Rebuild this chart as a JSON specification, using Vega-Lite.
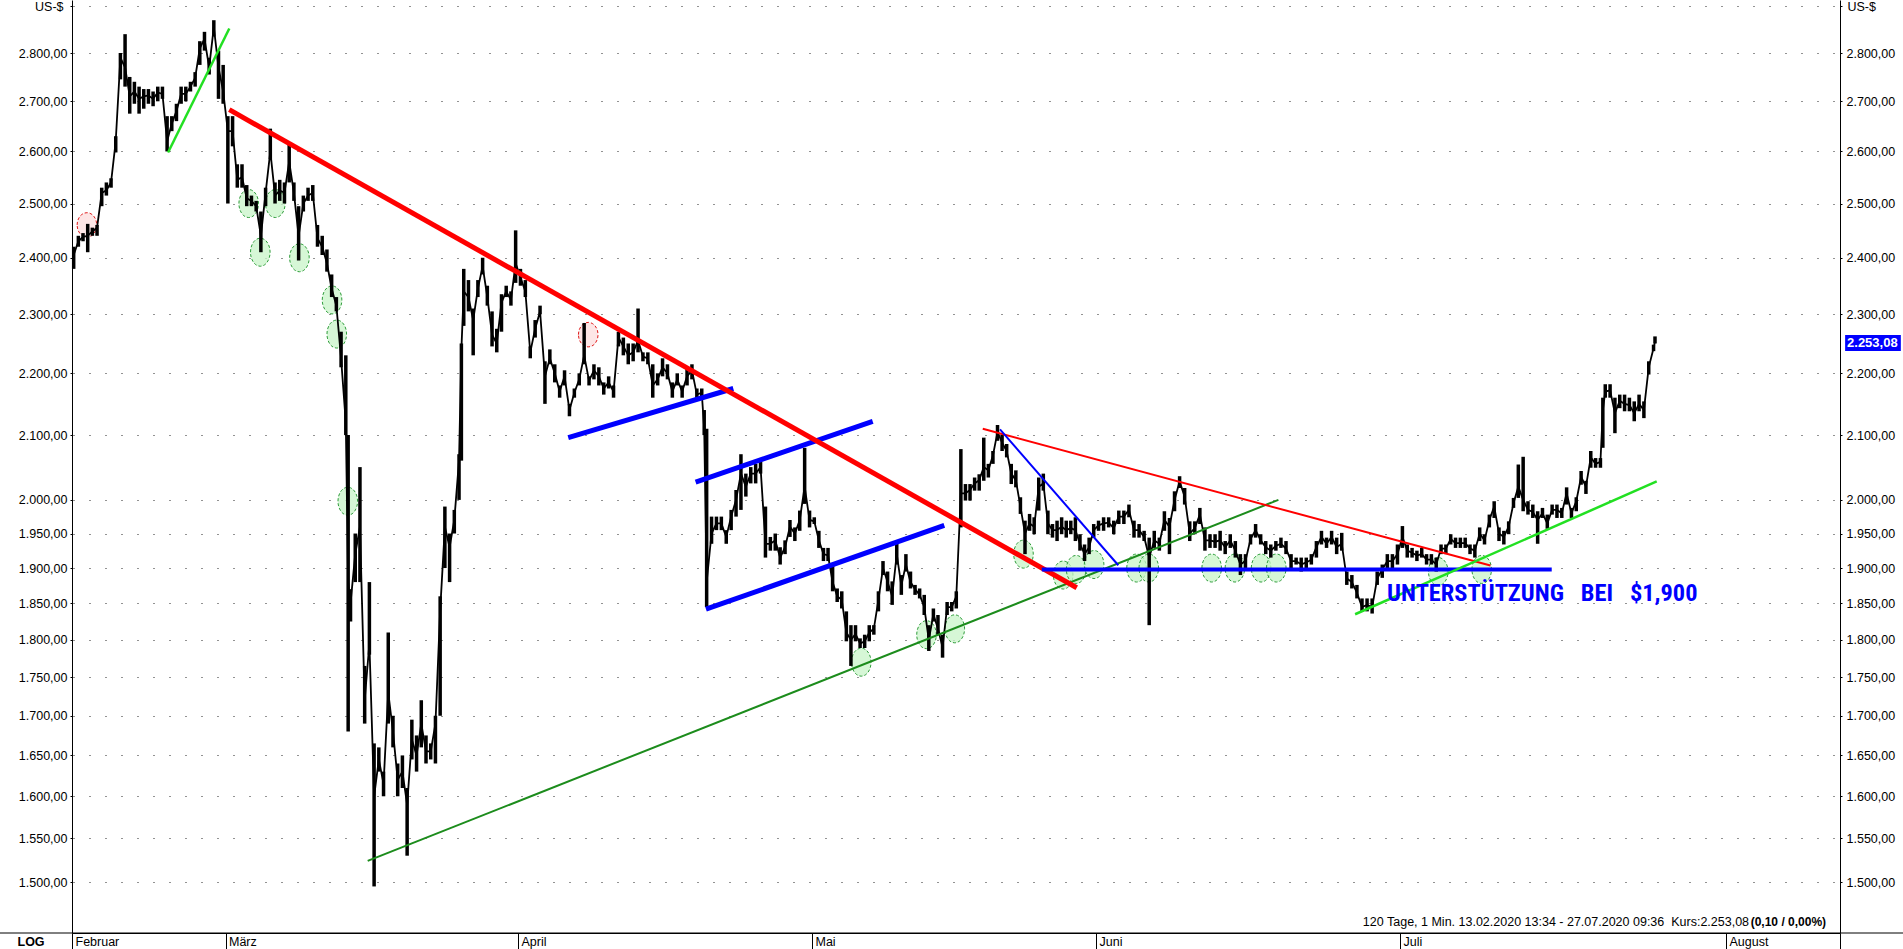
{
  "$schema": "https://vega.github.io/schema/vega-lite/v6.json",
  "width": 1768,
  "height": 933,
  "autosize": {"type": "none"},
  "padding": {"left": 72, "top": 0, "right": 63, "bottom": 16},
  "background": "#ffffff",
  "config": {"view": {"stroke": null}, "font": "Liberation Sans"},
  "datasets": {
    "prices": [
      {"t":"2020-02-13T18:00","l":2380,"h":2420,"c":2405},
      {"t":"2020-02-14T06:00","l":2420,"h":2440,"c":2430},
      {"t":"2020-02-14T18:00","l":2430,"h":2445,"c":2438},
      {"t":"2020-02-15T06:00","l":2410,"h":2462,"c":2440},
      {"t":"2020-02-15T18:00","l":2440,"h":2455,"c":2448},
      {"t":"2020-02-16T06:00","l":2440,"h":2460,"c":2455},
      {"t":"2020-02-16T18:00","l":2495,"h":2530,"c":2520},
      {"t":"2020-02-17T06:00","l":2515,"h":2540,"c":2525},
      {"t":"2020-02-17T18:00","l":2530,"h":2548,"c":2540},
      {"t":"2020-02-18T06:00","l":2598,"h":2630,"c":2620},
      {"t":"2020-02-18T18:00","l":2745,"h":2800,"c":2790},
      {"t":"2020-02-19T06:00","l":2730,"h":2840,"c":2770},
      {"t":"2020-02-19T18:00","l":2675,"h":2750,"c":2710},
      {"t":"2020-02-20T06:00","l":2695,"h":2740,"c":2720},
      {"t":"2020-02-20T18:00","l":2675,"h":2730,"c":2705},
      {"t":"2020-02-21T06:00","l":2685,"h":2725,"c":2710},
      {"t":"2020-02-21T18:00","l":2695,"h":2725,"c":2712},
      {"t":"2020-02-22T06:00","l":2690,"h":2720,"c":2705},
      {"t":"2020-02-22T18:00","l":2700,"h":2730,"c":2718},
      {"t":"2020-02-23T06:00","l":2705,"h":2730,"c":2715},
      {"t":"2020-02-23T18:00","l":2600,"h":2670,"c":2620},
      {"t":"2020-02-24T06:00","l":2640,"h":2670,"c":2655},
      {"t":"2020-02-24T18:00","l":2660,"h":2695,"c":2680},
      {"t":"2020-02-25T06:00","l":2695,"h":2730,"c":2715},
      {"t":"2020-02-25T18:00","l":2700,"h":2730,"c":2715},
      {"t":"2020-02-26T06:00","l":2720,"h":2740,"c":2730},
      {"t":"2020-02-26T18:00","l":2730,"h":2760,"c":2748},
      {"t":"2020-02-27T06:00","l":2775,"h":2825,"c":2810},
      {"t":"2020-02-27T18:00","l":2805,"h":2845,"c":2830},
      {"t":"2020-02-28T06:00","l":2755,"h":2790,"c":2770},
      {"t":"2020-02-28T18:00","l":2835,"h":2870,"c":2855},
      {"t":"2020-02-29T06:00","l":2705,"h":2805,"c":2770},
      {"t":"2020-02-29T18:00","l":2695,"h":2775,"c":2720},
      {"t":"2020-03-01T06:00","l":2500,"h":2670,"c":2640},
      {"t":"2020-03-01T18:00","l":2610,"h":2670,"c":2640},
      {"t":"2020-03-02T06:00","l":2530,"h":2575,"c":2545},
      {"t":"2020-03-02T18:00","l":2530,"h":2575,"c":2550},
      {"t":"2020-03-03T06:00","l":2495,"h":2535,"c":2510},
      {"t":"2020-03-03T18:00","l":2495,"h":2515,"c":2505},
      {"t":"2020-03-04T06:00","l":2485,"h":2505,"c":2495},
      {"t":"2020-03-04T18:00","l":2410,"h":2485,"c":2440},
      {"t":"2020-03-05T06:00","l":2495,"h":2530,"c":2520},
      {"t":"2020-03-05T18:00","l":2585,"h":2645,"c":2600},
      {"t":"2020-03-06T06:00","l":2500,"h":2540,"c":2515},
      {"t":"2020-03-06T18:00","l":2505,"h":2545,"c":2525},
      {"t":"2020-03-07T06:00","l":2500,"h":2540,"c":2520},
      {"t":"2020-03-07T18:00","l":2540,"h":2615,"c":2580},
      {"t":"2020-03-08T06:00","l":2505,"h":2540,"c":2520},
      {"t":"2020-03-08T18:00","l":2395,"h":2495,"c":2440},
      {"t":"2020-03-09T06:00","l":2485,"h":2515,"c":2500},
      {"t":"2020-03-09T18:00","l":2505,"h":2530,"c":2515},
      {"t":"2020-03-10T06:00","l":2505,"h":2535,"c":2520},
      {"t":"2020-03-10T18:00","l":2420,"h":2460,"c":2435},
      {"t":"2020-03-11T06:00","l":2405,"h":2440,"c":2420},
      {"t":"2020-03-11T18:00","l":2375,"h":2415,"c":2390},
      {"t":"2020-03-12T06:00","l":2330,"h":2370,"c":2345},
      {"t":"2020-03-12T18:00","l":2305,"h":2330,"c":2315},
      {"t":"2020-03-13T06:00","l":2210,"h":2270,"c":2225},
      {"t":"2020-03-13T18:00","l":2100,"h":2230,"c":2120},
      {"t":"2020-03-14T00:00","l":1680,"h":2100,"c":1880},
      {"t":"2020-03-14T06:00","l":1825,"h":1870,"c":1850},
      {"t":"2020-03-14T18:00","l":1880,"h":1950,"c":1920},
      {"t":"2020-03-15T06:00","l":1880,"h":2050,"c":1960},
      {"t":"2020-03-15T18:00","l":1690,"h":1765,"c":1720},
      {"t":"2020-03-16T06:00","l":1780,"h":1880,"c":1795},
      {"t":"2020-03-16T18:00","l":1495,"h":1665,"c":1600},
      {"t":"2020-03-17T06:00","l":1630,"h":1660,"c":1645},
      {"t":"2020-03-17T18:00","l":1600,"h":1630,"c":1615},
      {"t":"2020-03-18T06:00","l":1690,"h":1810,"c":1730},
      {"t":"2020-03-18T18:00","l":1660,"h":1700,"c":1680},
      {"t":"2020-03-19T06:00","l":1600,"h":1640,"c":1620},
      {"t":"2020-03-19T18:00","l":1610,"h":1650,"c":1630},
      {"t":"2020-03-20T06:00","l":1530,"h":1610,"c":1590},
      {"t":"2020-03-20T18:00","l":1645,"h":1695,"c":1670},
      {"t":"2020-03-21T06:00","l":1630,"h":1675,"c":1650},
      {"t":"2020-03-21T18:00","l":1660,"h":1720,"c":1690},
      {"t":"2020-03-22T06:00","l":1640,"h":1675,"c":1655},
      {"t":"2020-03-22T18:00","l":1645,"h":1665,"c":1655},
      {"t":"2020-03-23T06:00","l":1640,"h":1700,"c":1690},
      {"t":"2020-03-23T18:00","l":1700,"h":1860,"c":1840},
      {"t":"2020-03-24T06:00","l":1900,"h":1990,"c":1960},
      {"t":"2020-03-24T18:00","l":1880,"h":1950,"c":1930},
      {"t":"2020-03-25T06:00","l":1950,"h":1985,"c":1970},
      {"t":"2020-03-25T18:00","l":2000,"h":2070,"c":2060},
      {"t":"2020-03-26T00:00","l":2060,"h":2250,"c":2240},
      {"t":"2020-03-26T06:00","l":2280,"h":2380,"c":2340},
      {"t":"2020-03-26T18:00","l":2305,"h":2360,"c":2330},
      {"t":"2020-03-27T06:00","l":2230,"h":2310,"c":2290},
      {"t":"2020-03-27T18:00","l":2330,"h":2360,"c":2345},
      {"t":"2020-03-28T06:00","l":2370,"h":2400,"c":2385},
      {"t":"2020-03-28T18:00","l":2315,"h":2350,"c":2330},
      {"t":"2020-03-29T06:00","l":2245,"h":2305,"c":2265},
      {"t":"2020-03-29T18:00","l":2235,"h":2275,"c":2250},
      {"t":"2020-03-30T06:00","l":2270,"h":2335,"c":2320},
      {"t":"2020-03-30T18:00","l":2330,"h":2350,"c":2340},
      {"t":"2020-03-31T06:00","l":2315,"h":2340,"c":2325},
      {"t":"2020-03-31T18:00","l":2355,"h":2450,"c":2390},
      {"t":"2020-04-01T06:00","l":2350,"h":2380,"c":2365},
      {"t":"2020-04-01T18:00","l":2330,"h":2360,"c":2340},
      {"t":"2020-04-02T06:00","l":2225,"h":2245,"c":2235},
      {"t":"2020-04-02T18:00","l":2260,"h":2290,"c":2275},
      {"t":"2020-04-03T06:00","l":2300,"h":2315,"c":2305},
      {"t":"2020-04-03T18:00","l":2150,"h":2220,"c":2195},
      {"t":"2020-04-04T06:00","l":2215,"h":2240,"c":2225},
      {"t":"2020-04-04T18:00","l":2185,"h":2215,"c":2200},
      {"t":"2020-04-05T06:00","l":2160,"h":2180,"c":2170},
      {"t":"2020-04-05T18:00","l":2180,"h":2205,"c":2195},
      {"t":"2020-04-06T06:00","l":2130,"h":2150,"c":2140},
      {"t":"2020-04-06T18:00","l":2160,"h":2175,"c":2168},
      {"t":"2020-04-07T06:00","l":2180,"h":2200,"c":2190},
      {"t":"2020-04-07T18:00","l":2215,"h":2285,"c":2230},
      {"t":"2020-04-08T06:00","l":2180,"h":2195,"c":2188},
      {"t":"2020-04-08T18:00","l":2190,"h":2215,"c":2205},
      {"t":"2020-04-09T06:00","l":2180,"h":2210,"c":2195},
      {"t":"2020-04-09T18:00","l":2165,"h":2185,"c":2175},
      {"t":"2020-04-10T06:00","l":2175,"h":2195,"c":2185},
      {"t":"2020-04-10T18:00","l":2160,"h":2180,"c":2170},
      {"t":"2020-04-11T06:00","l":2245,"h":2270,"c":2260},
      {"t":"2020-04-11T18:00","l":2230,"h":2260,"c":2245},
      {"t":"2020-04-12T06:00","l":2215,"h":2250,"c":2230},
      {"t":"2020-04-12T18:00","l":2220,"h":2250,"c":2235},
      {"t":"2020-04-13T06:00","l":2235,"h":2310,"c":2255},
      {"t":"2020-04-13T18:00","l":2220,"h":2235,"c":2228},
      {"t":"2020-04-14T06:00","l":2215,"h":2235,"c":2225},
      {"t":"2020-04-14T18:00","l":2160,"h":2215,"c":2180},
      {"t":"2020-04-15T06:00","l":2180,"h":2200,"c":2190},
      {"t":"2020-04-15T18:00","l":2195,"h":2225,"c":2210},
      {"t":"2020-04-16T06:00","l":2190,"h":2215,"c":2200},
      {"t":"2020-04-16T18:00","l":2160,"h":2185,"c":2170},
      {"t":"2020-04-17T06:00","l":2180,"h":2200,"c":2190},
      {"t":"2020-04-17T18:00","l":2160,"h":2180,"c":2170},
      {"t":"2020-04-18T06:00","l":2180,"h":2210,"c":2195},
      {"t":"2020-04-18T18:00","l":2190,"h":2215,"c":2205},
      {"t":"2020-04-19T06:00","l":2155,"h":2175,"c":2165},
      {"t":"2020-04-19T18:00","l":2160,"h":2175,"c":2168},
      {"t":"2020-04-20T00:00","l":2100,"h":2140,"c":2110},
      {"t":"2020-04-20T06:00","l":1845,"h":2110,"c":1880},
      {"t":"2020-04-20T18:00","l":1935,"h":1975,"c":1950},
      {"t":"2020-04-21T06:00","l":1955,"h":1975,"c":1965},
      {"t":"2020-04-21T18:00","l":1955,"h":1975,"c":1965},
      {"t":"2020-04-22T06:00","l":1935,"h":1955,"c":1945},
      {"t":"2020-04-22T18:00","l":1955,"h":1985,"c":1975},
      {"t":"2020-04-23T06:00","l":1975,"h":2015,"c":2000},
      {"t":"2020-04-23T18:00","l":1985,"h":2070,"c":2040},
      {"t":"2020-04-24T06:00","l":2005,"h":2040,"c":2020},
      {"t":"2020-04-24T18:00","l":2025,"h":2050,"c":2040},
      {"t":"2020-04-25T06:00","l":2025,"h":2055,"c":2040},
      {"t":"2020-04-25T18:00","l":2040,"h":2060,"c":2050},
      {"t":"2020-04-26T06:00","l":1915,"h":1990,"c":1935},
      {"t":"2020-04-26T18:00","l":1925,"h":1945,"c":1935},
      {"t":"2020-04-27T06:00","l":1925,"h":1950,"c":1940},
      {"t":"2020-04-27T18:00","l":1905,"h":1930,"c":1915},
      {"t":"2020-04-28T06:00","l":1920,"h":1940,"c":1930},
      {"t":"2020-04-28T18:00","l":1945,"h":1970,"c":1960},
      {"t":"2020-04-29T06:00","l":1939,"h":1959,"c":1950},
      {"t":"2020-04-29T18:00","l":1954,"h":1984,"c":1970},
      {"t":"2020-04-30T06:00","l":1994,"h":2080,"c":2020},
      {"t":"2020-04-30T18:00","l":1959,"h":1984,"c":1970},
      {"t":"2020-05-01T06:00","l":1964,"h":1974,"c":1968},
      {"t":"2020-05-01T18:00","l":1929,"h":1954,"c":1940},
      {"t":"2020-05-02T06:00","l":1910,"h":1929,"c":1920},
      {"t":"2020-05-02T18:00","l":1910,"h":1929,"c":1918},
      {"t":"2020-05-03T06:00","l":1867,"h":1905,"c":1880},
      {"t":"2020-05-03T18:00","l":1852,"h":1871,"c":1860},
      {"t":"2020-05-04T06:00","l":1843,"h":1867,"c":1855},
      {"t":"2020-05-04T18:00","l":1798,"h":1839,"c":1810},
      {"t":"2020-05-05T06:00","l":1765,"h":1820,"c":1800},
      {"t":"2020-05-05T18:00","l":1798,"h":1820,"c":1808},
      {"t":"2020-05-06T06:00","l":1789,"h":1802,"c":1795},
      {"t":"2020-05-06T18:00","l":1789,"h":1807,"c":1798},
      {"t":"2020-05-07T06:00","l":1798,"h":1820,"c":1810},
      {"t":"2020-05-07T18:00","l":1807,"h":1820,"c":1815},
      {"t":"2020-05-08T06:00","l":1839,"h":1867,"c":1855},
      {"t":"2020-05-08T18:00","l":1890,"h":1910,"c":1900},
      {"t":"2020-05-09T06:00","l":1867,"h":1895,"c":1880},
      {"t":"2020-05-09T18:00","l":1848,"h":1881,"c":1860},
      {"t":"2020-05-10T06:00","l":1905,"h":1939,"c":1920},
      {"t":"2020-05-10T18:00","l":1862,"h":1890,"c":1875},
      {"t":"2020-05-11T06:00","l":1895,"h":1920,"c":1905},
      {"t":"2020-05-11T18:00","l":1871,"h":1895,"c":1880},
      {"t":"2020-05-12T06:00","l":1862,"h":1876,"c":1870},
      {"t":"2020-05-12T18:00","l":1857,"h":1871,"c":1862},
      {"t":"2020-05-13T06:00","l":1834,"h":1862,"c":1845},
      {"t":"2020-05-13T18:00","l":1785,"h":1820,"c":1800},
      {"t":"2020-05-14T06:00","l":1825,"h":1843,"c":1835},
      {"t":"2020-05-14T18:00","l":1807,"h":1834,"c":1815},
      {"t":"2020-05-15T06:00","l":1776,"h":1807,"c":1790},
      {"t":"2020-05-15T18:00","l":1834,"h":1852,"c":1845},
      {"t":"2020-05-16T06:00","l":1839,"h":1852,"c":1845},
      {"t":"2020-05-16T18:00","l":1843,"h":1867,"c":1860},
      {"t":"2020-05-17T06:00","l":1959,"h":2078,"c":2010},
      {"t":"2020-05-17T18:00","l":1999,"h":2024,"c":2010},
      {"t":"2020-05-18T06:00","l":1999,"h":2024,"c":2015},
      {"t":"2020-05-18T18:00","l":2014,"h":2034,"c":2025},
      {"t":"2020-05-19T06:00","l":2014,"h":2039,"c":2030},
      {"t":"2020-05-19T18:00","l":2029,"h":2096,"c":2050},
      {"t":"2020-05-20T06:00","l":2034,"h":2055,"c":2045},
      {"t":"2020-05-20T18:00","l":2055,"h":2075,"c":2068},
      {"t":"2020-05-21T06:00","l":2091,"h":2116,"c":2105},
      {"t":"2020-05-21T18:00","l":2075,"h":2101,"c":2088},
      {"t":"2020-05-22T06:00","l":2065,"h":2086,"c":2075},
      {"t":"2020-05-22T18:00","l":2024,"h":2055,"c":2040},
      {"t":"2020-05-23T06:00","l":2019,"h":2045,"c":2030},
      {"t":"2020-05-23T18:00","l":1979,"h":2004,"c":1990},
      {"t":"2020-05-24T06:00","l":1920,"h":1969,"c":1950},
      {"t":"2020-05-24T18:00","l":1954,"h":1979,"c":1965},
      {"t":"2020-05-25T06:00","l":1949,"h":1974,"c":1960},
      {"t":"2020-05-25T18:00","l":1984,"h":2034,"c":2020},
      {"t":"2020-05-26T06:00","l":2014,"h":2040,"c":2025},
      {"t":"2020-05-26T18:00","l":1949,"h":1984,"c":1965},
      {"t":"2020-05-27T06:00","l":1944,"h":1964,"c":1955},
      {"t":"2020-05-27T18:00","l":1939,"h":1969,"c":1955},
      {"t":"2020-05-28T06:00","l":1949,"h":1974,"c":1960},
      {"t":"2020-05-28T18:00","l":1944,"h":1969,"c":1955},
      {"t":"2020-05-29T06:00","l":1949,"h":1969,"c":1958},
      {"t":"2020-05-29T18:00","l":1939,"h":1974,"c":1955},
      {"t":"2020-05-30T06:00","l":1925,"h":1949,"c":1935},
      {"t":"2020-05-30T18:00","l":1910,"h":1934,"c":1920},
      {"t":"2020-05-31T06:00","l":1920,"h":1944,"c":1930},
      {"t":"2020-05-31T18:00","l":1944,"h":1964,"c":1955},
      {"t":"2020-06-01T06:00","l":1954,"h":1969,"c":1962},
      {"t":"2020-06-01T18:00","l":1954,"h":1974,"c":1965},
      {"t":"2020-06-02T06:00","l":1959,"h":1974,"c":1966},
      {"t":"2020-06-02T18:00","l":1949,"h":1969,"c":1958},
      {"t":"2020-06-03T06:00","l":1964,"h":1984,"c":1975},
      {"t":"2020-06-03T18:00","l":1964,"h":1984,"c":1975},
      {"t":"2020-06-04T06:00","l":1974,"h":1993,"c":1985},
      {"t":"2020-06-04T18:00","l":1944,"h":1969,"c":1955},
      {"t":"2020-06-05T06:00","l":1944,"h":1964,"c":1955},
      {"t":"2020-06-05T18:00","l":1939,"h":1954,"c":1945},
      {"t":"2020-06-06T06:00","l":1820,"h":1944,"c":1915},
      {"t":"2020-06-06T18:00","l":1929,"h":1954,"c":1940},
      {"t":"2020-06-07T06:00","l":1925,"h":1944,"c":1935},
      {"t":"2020-06-07T18:00","l":1954,"h":1983,"c":1970},
      {"t":"2020-06-08T06:00","l":1920,"h":1973,"c":1960},
      {"t":"2020-06-08T18:00","l":1983,"h":2013,"c":2000},
      {"t":"2020-06-09T06:00","l":2018,"h":2036,"c":2028},
      {"t":"2020-06-09T18:00","l":1993,"h":2018,"c":2005},
      {"t":"2020-06-10T06:00","l":1939,"h":1968,"c":1950},
      {"t":"2020-06-10T18:00","l":1949,"h":1968,"c":1958},
      {"t":"2020-06-11T06:00","l":1964,"h":1988,"c":1978},
      {"t":"2020-06-11T18:00","l":1925,"h":1959,"c":1940},
      {"t":"2020-06-12T06:00","l":1929,"h":1949,"c":1940},
      {"t":"2020-06-12T18:00","l":1929,"h":1949,"c":1938},
      {"t":"2020-06-13T06:00","l":1925,"h":1954,"c":1940},
      {"t":"2020-06-13T18:00","l":1920,"h":1939,"c":1930},
      {"t":"2020-06-14T06:00","l":1929,"h":1949,"c":1940},
      {"t":"2020-06-14T18:00","l":1915,"h":1939,"c":1925},
      {"t":"2020-06-15T06:00","l":1890,"h":1920,"c":1905},
      {"t":"2020-06-15T18:00","l":1900,"h":1920,"c":1910},
      {"t":"2020-06-16T06:00","l":1934,"h":1949,"c":1942},
      {"t":"2020-06-16T18:00","l":1944,"h":1964,"c":1955},
      {"t":"2020-06-17T06:00","l":1934,"h":1949,"c":1940},
      {"t":"2020-06-17T18:00","l":1920,"h":1939,"c":1930},
      {"t":"2020-06-18T06:00","l":1915,"h":1934,"c":1925},
      {"t":"2020-06-18T18:00","l":1925,"h":1939,"c":1932},
      {"t":"2020-06-19T06:00","l":1929,"h":1944,"c":1935},
      {"t":"2020-06-19T18:00","l":1920,"h":1939,"c":1928},
      {"t":"2020-06-20T06:00","l":1900,"h":1920,"c":1910},
      {"t":"2020-06-20T18:00","l":1905,"h":1915,"c":1910},
      {"t":"2020-06-21T06:00","l":1895,"h":1915,"c":1905},
      {"t":"2020-06-21T18:00","l":1900,"h":1915,"c":1908},
      {"t":"2020-06-22T06:00","l":1905,"h":1920,"c":1912},
      {"t":"2020-06-22T18:00","l":1915,"h":1939,"c":1930},
      {"t":"2020-06-23T06:00","l":1934,"h":1954,"c":1945},
      {"t":"2020-06-23T18:00","l":1929,"h":1944,"c":1935},
      {"t":"2020-06-24T06:00","l":1934,"h":1954,"c":1945},
      {"t":"2020-06-24T18:00","l":1920,"h":1944,"c":1930},
      {"t":"2020-06-25T06:00","l":1925,"h":1951,"c":1935},
      {"t":"2020-06-25T18:00","l":1876,"h":1895,"c":1885},
      {"t":"2020-06-26T06:00","l":1871,"h":1890,"c":1880},
      {"t":"2020-06-26T18:00","l":1857,"h":1876,"c":1865},
      {"t":"2020-06-27T06:00","l":1839,"h":1857,"c":1845},
      {"t":"2020-06-27T18:00","l":1839,"h":1857,"c":1848},
      {"t":"2020-06-28T06:00","l":1836,"h":1857,"c":1845},
      {"t":"2020-06-28T18:00","l":1876,"h":1895,"c":1885},
      {"t":"2020-06-29T06:00","l":1886,"h":1905,"c":1898},
      {"t":"2020-06-29T18:00","l":1900,"h":1920,"c":1910},
      {"t":"2020-06-30T06:00","l":1900,"h":1920,"c":1910},
      {"t":"2020-06-30T18:00","l":1905,"h":1934,"c":1920},
      {"t":"2020-07-01T06:00","l":1929,"h":1961,"c":1945},
      {"t":"2020-07-01T18:00","l":1915,"h":1934,"c":1925},
      {"t":"2020-07-02T06:00","l":1915,"h":1929,"c":1922},
      {"t":"2020-07-02T18:00","l":1910,"h":1925,"c":1918},
      {"t":"2020-07-03T06:00","l":1915,"h":1929,"c":1920},
      {"t":"2020-07-03T18:00","l":1905,"h":1920,"c":1912},
      {"t":"2020-07-04T06:00","l":1905,"h":1920,"c":1912},
      {"t":"2020-07-04T18:00","l":1895,"h":1915,"c":1905},
      {"t":"2020-07-05T06:00","l":1920,"h":1934,"c":1928},
      {"t":"2020-07-05T18:00","l":1920,"h":1934,"c":1928},
      {"t":"2020-07-06T06:00","l":1934,"h":1949,"c":1942},
      {"t":"2020-07-06T18:00","l":1929,"h":1944,"c":1936},
      {"t":"2020-07-07T06:00","l":1929,"h":1944,"c":1936},
      {"t":"2020-07-07T18:00","l":1929,"h":1944,"c":1936},
      {"t":"2020-07-08T06:00","l":1920,"h":1934,"c":1928},
      {"t":"2020-07-08T18:00","l":1915,"h":1934,"c":1925},
      {"t":"2020-07-09T06:00","l":1939,"h":1959,"c":1950},
      {"t":"2020-07-09T18:00","l":1934,"h":1949,"c":1940},
      {"t":"2020-07-10T06:00","l":1959,"h":1978,"c":1970},
      {"t":"2020-07-10T18:00","l":1973,"h":1998,"c":1990},
      {"t":"2020-07-11T06:00","l":1939,"h":1959,"c":1950},
      {"t":"2020-07-11T18:00","l":1934,"h":1954,"c":1945},
      {"t":"2020-07-12T06:00","l":1949,"h":1968,"c":1960},
      {"t":"2020-07-12T18:00","l":1988,"h":2003,"c":1995},
      {"t":"2020-07-13T06:00","l":2003,"h":2054,"c":2020},
      {"t":"2020-07-13T18:00","l":1983,"h":2066,"c":2000},
      {"t":"2020-07-14T06:00","l":1978,"h":1998,"c":1985},
      {"t":"2020-07-14T18:00","l":1973,"h":1993,"c":1982},
      {"t":"2020-07-15T06:00","l":1935,"h":1983,"c":1970},
      {"t":"2020-07-15T18:00","l":1973,"h":1988,"c":1980},
      {"t":"2020-07-16T06:00","l":1957,"h":1978,"c":1965},
      {"t":"2020-07-16T18:00","l":1978,"h":1993,"c":1985},
      {"t":"2020-07-17T06:00","l":1973,"h":1993,"c":1985},
      {"t":"2020-07-17T18:00","l":1973,"h":1988,"c":1980},
      {"t":"2020-07-18T06:00","l":1993,"h":2019,"c":2010},
      {"t":"2020-07-18T18:00","l":1973,"h":1988,"c":1980},
      {"t":"2020-07-19T06:00","l":1983,"h":2004,"c":1998},
      {"t":"2020-07-19T18:00","l":2023,"h":2044,"c":2035},
      {"t":"2020-07-20T06:00","l":2009,"h":2029,"c":2020},
      {"t":"2020-07-20T18:00","l":2049,"h":2075,"c":2065},
      {"t":"2020-07-21T06:00","l":2049,"h":2064,"c":2055},
      {"t":"2020-07-21T18:00","l":2049,"h":2064,"c":2058},
      {"t":"2020-07-22T00:00","l":2080,"h":2160,"c":2140},
      {"t":"2020-07-22T06:00","l":2160,"h":2182,"c":2170},
      {"t":"2020-07-22T18:00","l":2160,"h":2182,"c":2172},
      {"t":"2020-07-23T06:00","l":2103,"h":2160,"c":2135},
      {"t":"2020-07-23T18:00","l":2143,"h":2165,"c":2155},
      {"t":"2020-07-24T06:00","l":2138,"h":2165,"c":2150},
      {"t":"2020-07-24T18:00","l":2138,"h":2160,"c":2148},
      {"t":"2020-07-25T06:00","l":2122,"h":2154,"c":2135},
      {"t":"2020-07-25T18:00","l":2138,"h":2165,"c":2150},
      {"t":"2020-07-26T06:00","l":2127,"h":2154,"c":2140},
      {"t":"2020-07-26T18:00","l":2198,"h":2220,"c":2210},
      {"t":"2020-07-27T06:00","l":2237,"h":2248,"c":2242},
      {"t":"2020-07-27T09:36","l":2250,"h":2262,"c":2253.08}
    ],
    "lines": [
      {"id":"r1","t":"2020-03-01T09:40","v":2683},{"id":"r1","t":"2020-05-29T21:36","v":1872},
      {"id":"r2","t":"2020-05-19T15:20","v":2110},{"id":"r2","t":"2020-07-10T08:40","v":1903.5},
      {"id":"b0","t":"2020-05-21T12:30","v":2109},{"id":"b0","t":"2020-06-03T04:48","v":1904},
      {"id":"bh","t":"2020-05-26T02:00","v":1898},{"id":"bh","t":"2020-07-16T17:00","v":1898},
      {"id":"b1","t":"2020-04-06T03:00","v":2096},{"id":"b1","t":"2020-04-22T23:15","v":2175},
      {"id":"b2","t":"2020-04-19T03:00","v":2027},{"id":"b2","t":"2020-05-07T15:00","v":2122},
      {"id":"b3","t":"2020-04-20T04:20","v":1842},{"id":"b3","t":"2020-05-15T10:30","v":1962},
      {"id":"g1","t":"2020-02-23T20:25","v":2598},{"id":"g1","t":"2020-03-01T09:40","v":2852},
      {"id":"g2","t":"2020-03-16T01:40","v":1524},{"id":"g2","t":"2020-06-19T00:00","v":2000},
      {"id":"g3","t":"2020-06-26T13:40","v":1835},{"id":"g3","t":"2020-07-27T12:15","v":2028}
    ],
    "circles": [
      {"k":"r","t":"2020-02-15T04:00","v":2460},
      {"k":"r","t":"2020-04-08T04:00","v":2265},
      {"k":"g","t":"2020-03-03T11:00","v":2500},
      {"k":"g","t":"2020-03-04T16:30","v":2410},
      {"k":"g","t":"2020-03-06T06:40","v":2500},
      {"k":"g","t":"2020-03-08T20:00","v":2400},
      {"k":"g","t":"2020-03-12T07:00","v":2325},
      {"k":"g","t":"2020-03-12T19:00","v":2266},
      {"k":"g","t":"2020-03-13T23:00","v":1998},
      {"k":"g","t":"2020-05-06T09:00","v":1770},
      {"k":"g","t":"2020-05-13T12:00","v":1807},
      {"k":"g","t":"2020-05-16T14:00","v":1815},
      {"k":"g","t":"2020-05-24T02:00","v":1920},
      {"k":"g","t":"2020-05-28T10:00","v":1890},
      {"k":"g","t":"2020-05-29T20:00","v":1898},
      {"k":"g","t":"2020-05-31T19:00","v":1905},
      {"k":"g","t":"2020-06-05T00:00","v":1900},
      {"k":"g","t":"2020-06-06T05:00","v":1900},
      {"k":"g","t":"2020-06-12T10:00","v":1900},
      {"k":"g","t":"2020-06-14T17:00","v":1900},
      {"k":"g","t":"2020-06-17T07:00","v":1900},
      {"k":"g","t":"2020-06-18T19:00","v":1900},
      {"k":"g","t":"2020-07-04T23:00","v":1895},
      {"k":"g","t":"2020-07-09T11:00","v":1898}
    ],
    "one": [{}]
  },
  "resolve": {"axis": {"x": "independent", "y": "independent"}},
  "layer": [
    {
      "data": {"name": "circles"},
      "transform": [{"filter": "datum.k === 'g'"}],
      "mark": {"type": "point", "shape": "M-0.7,0A0.7,1,0,1,1,0.7,0A0.7,1,0,1,1,-0.7,0Z", "size": 784, "filled": true, "fill": "#c8f4c8", "fillOpacity": 0.75, "stroke": "#2e9c3a", "strokeWidth": 1, "strokeDash": [3, 2], "strokeOpacity": 1},
      "encoding": {
        "x": {"field": "t", "type": "temporal", "axis": null, "scale": {"type": "time", "nice": false, "domain": {"expr": "[datetime(2020,1,13,13,40),datetime(2020,2,1),datetime(2020,3,1),datetime(2020,4,1),datetime(2020,5,1),datetime(2020,6,1),datetime(2020,6,27,9,36),datetime(2020,7,1),datetime(2020,7,8,10)]"}, "range": [0,153.5,446,740,1024,1328,1583,1654,1768]}},
        "y": {"field": "v", "type": "quantitative", "axis": null, "scale": {"type": "log", "domain": [1443.5, 2914], "nice": false}}
      }
    },
    {
      "data": {"name": "circles"},
      "transform": [{"filter": "datum.k === 'r'"}],
      "mark": {"type": "point", "shape": "M-0.8,0A0.8,1,0,1,1,0.8,0A0.8,1,0,1,1,-0.8,0Z", "size": 600, "filled": true, "fill": "#fde2e2", "fillOpacity": 0.85, "stroke": "#e01818", "strokeWidth": 1, "strokeDash": [3, 2], "strokeOpacity": 1},
      "encoding": {
        "x": {"field": "t", "type": "temporal", "axis": null, "scale": {"type": "time", "nice": false, "domain": {"expr": "[datetime(2020,1,13,13,40),datetime(2020,2,1),datetime(2020,3,1),datetime(2020,4,1),datetime(2020,5,1),datetime(2020,6,1),datetime(2020,6,27,9,36),datetime(2020,7,1),datetime(2020,7,8,10)]"}, "range": [0,153.5,446,740,1024,1328,1583,1654,1768]}},
        "y": {"field": "v", "type": "quantitative", "axis": null, "scale": {"type": "log", "domain": [1443.5, 2914], "nice": false}}
      }
    },
    {
      "data": {"name": "prices"},
      "mark": {"type": "rule", "color": "#000000", "strokeWidth": 3.5},
      "encoding": {
        "x": {"field": "t", "type": "temporal", "scale": {"type": "time", "nice": false, "domain": {"expr": "[datetime(2020,1,13,13,40),datetime(2020,2,1),datetime(2020,3,1),datetime(2020,4,1),datetime(2020,5,1),datetime(2020,6,1),datetime(2020,6,27,9,36),datetime(2020,7,1),datetime(2020,7,8,10)]"}, "range": [0,153.5,446,740,1024,1328,1583,1654,1768]},
          "axis": {"values": [{"year":2020,"month":2,"date":13,"hours":13,"minutes":40},{"year":2020,"month":3,"date":1},{"year":2020,"month":4,"date":1},{"year":2020,"month":5,"date":1},{"year":2020,"month":6,"date":1},{"year":2020,"month":7,"date":1},{"year":2020,"month":8,"date":1},{"year":2020,"month":8,"date":8,"hours":10}],
            "labelExpr": "datum.value > datetime(2020,7,5) ? '' : ['Januar','Februar','März','April','Mai','Juni','Juli','August'][month(datum.value)]",
            "labelAlign": "left", "labelBaseline": "middle", "labelPadding": -8, "labelOffset": 3, "labelFont": "Liberation Sans", "labelFontSize": 12.5, "labelColor": "#000000", "labelFlush": false, "labelOverlap": false, "labelBound": false,
            "tickSize": 16, "tickColor": "#000000", "tickWidth": 1, "domainColor": "#000000", "domainWidth": 1, "grid": false,
            "title": "LOG", "titleX": -55, "titleY": 8, "titleAlign": "left", "titleBaseline": "middle", "titleFont": "Liberation Sans", "titleFontSize": 12.5, "titleFontWeight": "bold", "titleColor": "#000000"}},
        "y": {"field": "l", "type": "quantitative", "scale": {"type": "log", "domain": [1443.5, 2914], "nice": false},
          "axis": {"orient": "left", "values": [1500,1550,1600,1650,1700,1750,1800,1850,1900,1950,2000,2100,2200,2300,2400,2500,2600,2700,2800,2900],
            "labelExpr": "datum.value > 2850 ? '' : replace(replace(replace(format(datum.value, ',.2f'), ',', '#'), '.', ','), '#', '.')",
            "labelFont": "Liberation Sans", "labelFontSize": 12.5, "labelColor": "#000000", "labelPadding": 3, "labelOverlap": false, "labelFlush": false, "labelBound": false,
            "tickSize": 2, "tickColor": "#000000", "domainColor": "#000000", "domainWidth": 1,
            "grid": true, "gridColor": "#000000", "gridDash": [1, 15], "gridDashOffset": -1, "gridWidth": 1, "gridOpacity": 0.85,
            "title": "US-$", "titleAngle": 0, "titleX": -9, "titleY": 6, "titleAlign": "right", "titleBaseline": "middle", "titleFont": "Liberation Sans", "titleFontSize": 12.5, "titleFontWeight": "normal", "titleColor": "#000000"}},
        "y2": {"field": "h"}
      }
    },
    {
      "data": {"name": "prices"},
      "mark": {"type": "line", "color": "#000000", "strokeWidth": 1.8},
      "encoding": {
        "x": {"field": "t", "type": "temporal", "axis": null, "scale": {"type": "time", "nice": false, "domain": {"expr": "[datetime(2020,1,13,13,40),datetime(2020,2,1),datetime(2020,3,1),datetime(2020,4,1),datetime(2020,5,1),datetime(2020,6,1),datetime(2020,6,27,9,36),datetime(2020,7,1),datetime(2020,7,8,10)]"}, "range": [0,153.5,446,740,1024,1328,1583,1654,1768]}},
        "y": {"field": "c", "type": "quantitative", "scale": {"type": "log", "domain": [1443.5, 2914], "nice": false},
          "axis": {"orient": "right", "values": [1500,1550,1600,1650,1700,1750,1800,1850,1900,1950,2000,2100,2200,2300,2400,2500,2600,2700,2800,2900],
            "labelExpr": "datum.value > 2850 ? '' : replace(replace(replace(format(datum.value, ',.2f'), ',', '#'), '.', ','), '#', '.')",
            "labelFont": "Liberation Sans", "labelFontSize": 12.5, "labelColor": "#000000", "labelPadding": 4, "labelOverlap": false, "labelFlush": false, "labelBound": false,
            "tickSize": 2, "tickColor": "#000000", "domainColor": "#000000", "domainWidth": 1, "grid": false,
            "title": "US-$", "titleAngle": 0, "titleX": 7, "titleY": 6, "titleAlign": "left", "titleBaseline": "middle", "titleFont": "Liberation Sans", "titleFontSize": 12.5, "titleFontWeight": "normal", "titleColor": "#000000"}}
      }
    },
    {
      "data": {"name": "lines"},
      "transform": [{"filter": "datum.id === 'g2'"}],
      "mark": {"type": "line", "color": "#1c8c1c", "strokeWidth": 2},
      "encoding": {
        "x": {"field": "t", "type": "temporal", "axis": null, "scale": {"type": "time", "nice": false, "domain": {"expr": "[datetime(2020,1,13,13,40),datetime(2020,2,1),datetime(2020,3,1),datetime(2020,4,1),datetime(2020,5,1),datetime(2020,6,1),datetime(2020,6,27,9,36),datetime(2020,7,1),datetime(2020,7,8,10)]"}, "range": [0,153.5,446,740,1024,1328,1583,1654,1768]}},
        "y": {"field": "v", "type": "quantitative", "axis": null, "scale": {"type": "log", "domain": [1443.5, 2914], "nice": false}}
      }
    },
    {
      "data": {"name": "lines"},
      "transform": [{"filter": "datum.id === 'b1' || datum.id === 'b2' || datum.id === 'b3'"}],
      "mark": {"type": "line", "color": "#0000ff", "strokeWidth": 5},
      "encoding": {
        "detail": {"field": "id"},
        "x": {"field": "t", "type": "temporal", "axis": null, "scale": {"type": "time", "nice": false, "domain": {"expr": "[datetime(2020,1,13,13,40),datetime(2020,2,1),datetime(2020,3,1),datetime(2020,4,1),datetime(2020,5,1),datetime(2020,6,1),datetime(2020,6,27,9,36),datetime(2020,7,1),datetime(2020,7,8,10)]"}, "range": [0,153.5,446,740,1024,1328,1583,1654,1768]}},
        "y": {"field": "v", "type": "quantitative", "axis": null, "scale": {"type": "log", "domain": [1443.5, 2914], "nice": false}}
      }
    },
    {
      "data": {"name": "lines"},
      "transform": [{"filter": "datum.id === 'r1'"}],
      "mark": {"type": "line", "color": "#ff0000", "strokeWidth": 5},
      "encoding": {
        "x": {"field": "t", "type": "temporal", "axis": null, "scale": {"type": "time", "nice": false, "domain": {"expr": "[datetime(2020,1,13,13,40),datetime(2020,2,1),datetime(2020,3,1),datetime(2020,4,1),datetime(2020,5,1),datetime(2020,6,1),datetime(2020,6,27,9,36),datetime(2020,7,1),datetime(2020,7,8,10)]"}, "range": [0,153.5,446,740,1024,1328,1583,1654,1768]}},
        "y": {"field": "v", "type": "quantitative", "axis": null, "scale": {"type": "log", "domain": [1443.5, 2914], "nice": false}}
      }
    },
    {
      "data": {"name": "lines"},
      "transform": [{"filter": "datum.id === 'r2'"}],
      "mark": {"type": "line", "color": "#ff0000", "strokeWidth": 2},
      "encoding": {
        "x": {"field": "t", "type": "temporal", "axis": null, "scale": {"type": "time", "nice": false, "domain": {"expr": "[datetime(2020,1,13,13,40),datetime(2020,2,1),datetime(2020,3,1),datetime(2020,4,1),datetime(2020,5,1),datetime(2020,6,1),datetime(2020,6,27,9,36),datetime(2020,7,1),datetime(2020,7,8,10)]"}, "range": [0,153.5,446,740,1024,1328,1583,1654,1768]}},
        "y": {"field": "v", "type": "quantitative", "axis": null, "scale": {"type": "log", "domain": [1443.5, 2914], "nice": false}}
      }
    },
    {
      "data": {"name": "lines"},
      "transform": [{"filter": "datum.id === 'b0'"}],
      "mark": {"type": "line", "color": "#0000ff", "strokeWidth": 2},
      "encoding": {
        "x": {"field": "t", "type": "temporal", "axis": null, "scale": {"type": "time", "nice": false, "domain": {"expr": "[datetime(2020,1,13,13,40),datetime(2020,2,1),datetime(2020,3,1),datetime(2020,4,1),datetime(2020,5,1),datetime(2020,6,1),datetime(2020,6,27,9,36),datetime(2020,7,1),datetime(2020,7,8,10)]"}, "range": [0,153.5,446,740,1024,1328,1583,1654,1768]}},
        "y": {"field": "v", "type": "quantitative", "axis": null, "scale": {"type": "log", "domain": [1443.5, 2914], "nice": false}}
      }
    },
    {
      "data": {"name": "lines"},
      "transform": [{"filter": "datum.id === 'bh'"}],
      "mark": {"type": "line", "color": "#0000ff", "strokeWidth": 4},
      "encoding": {
        "x": {"field": "t", "type": "temporal", "axis": null, "scale": {"type": "time", "nice": false, "domain": {"expr": "[datetime(2020,1,13,13,40),datetime(2020,2,1),datetime(2020,3,1),datetime(2020,4,1),datetime(2020,5,1),datetime(2020,6,1),datetime(2020,6,27,9,36),datetime(2020,7,1),datetime(2020,7,8,10)]"}, "range": [0,153.5,446,740,1024,1328,1583,1654,1768]}},
        "y": {"field": "v", "type": "quantitative", "axis": null, "scale": {"type": "log", "domain": [1443.5, 2914], "nice": false}}
      }
    },
    {
      "data": {"name": "lines"},
      "transform": [{"filter": "datum.id === 'g1' || datum.id === 'g3'"}],
      "mark": {"type": "line", "color": "#22e022", "strokeWidth": 2.5},
      "encoding": {
        "detail": {"field": "id"},
        "x": {"field": "t", "type": "temporal", "axis": null, "scale": {"type": "time", "nice": false, "domain": {"expr": "[datetime(2020,1,13,13,40),datetime(2020,2,1),datetime(2020,3,1),datetime(2020,4,1),datetime(2020,5,1),datetime(2020,6,1),datetime(2020,6,27,9,36),datetime(2020,7,1),datetime(2020,7,8,10)]"}, "range": [0,153.5,446,740,1024,1328,1583,1654,1768]}},
        "y": {"field": "v", "type": "quantitative", "axis": null, "scale": {"type": "log", "domain": [1443.5, 2914], "nice": false}}
      }
    },
    {
      "data": {"name": "one"},
      "mark": {"type": "text", "text": "UNTERSTÜTZUNG\u00a0\u00a0\u00a0BEI\u00a0\u00a0\u00a0$1,900", "font": "Liberation Sans Narrow, Roboto Condensed, DejaVu Sans Condensed, Liberation Sans", "fontWeight": "bold", "fontSize": 24.4, "color": "#0000ff", "align": "left", "baseline": "alphabetic"},
      "encoding": {
        "x": {"datum": {"year":2020,"month":6,"date":29,"hours":17,"minutes":30}, "type": "temporal", "axis": null, "scale": {"type": "time", "nice": false, "domain": {"expr": "[datetime(2020,1,13,13,40),datetime(2020,2,1),datetime(2020,3,1),datetime(2020,4,1),datetime(2020,5,1),datetime(2020,6,1),datetime(2020,6,27,9,36),datetime(2020,7,1),datetime(2020,7,8,10)]"}, "range": [0,153.5,446,740,1024,1328,1583,1654,1768]}},
        "y": {"datum": 1853, "type": "quantitative", "axis": null, "scale": {"type": "log", "domain": [1443.5, 2914], "nice": false}}
      }
    },
    {
      "data": {"name": "one"},
      "mark": {"type": "text", "text": "120 Tage, 1 Min. 13.02.2020 13:34 - 27.07.2020 09:36\u00a0 Kurs:2.253,08", "font": "Liberation Sans", "fontSize": 12.5, "color": "#000000", "align": "right", "baseline": "middle"},
      "encoding": {
        "x": {"datum": {"year":2020,"month":8,"date":2,"hours":12}, "type": "temporal", "axis": null, "scale": {"type": "time", "nice": false, "domain": {"expr": "[datetime(2020,1,13,13,40),datetime(2020,2,1),datetime(2020,3,1),datetime(2020,4,1),datetime(2020,5,1),datetime(2020,6,1),datetime(2020,6,27,9,36),datetime(2020,7,1),datetime(2020,7,8,10)]"}, "range": [0,153.5,446,740,1024,1328,1583,1654,1768]}},
        "y": {"datum": 1455.5, "type": "quantitative", "axis": null, "scale": {"type": "log", "domain": [1443.5, 2914], "nice": false}}
      }
    },
    {
      "data": {"name": "one"},
      "mark": {"type": "text", "text": "(0,10 / 0,00%)", "font": "Liberation Sans", "fontSize": 12, "fontWeight": "bold", "color": "#000000", "align": "right", "baseline": "middle"},
      "encoding": {
        "x": {"datum": {"year":2020,"month":8,"date":7,"hours":12,"minutes":15}, "type": "temporal", "axis": null, "scale": {"type": "time", "nice": false, "domain": {"expr": "[datetime(2020,1,13,13,40),datetime(2020,2,1),datetime(2020,3,1),datetime(2020,4,1),datetime(2020,5,1),datetime(2020,6,1),datetime(2020,6,27,9,36),datetime(2020,7,1),datetime(2020,7,8,10)]"}, "range": [0,153.5,446,740,1024,1328,1583,1654,1768]}},
        "y": {"datum": 1455.5, "type": "quantitative", "axis": null, "scale": {"type": "log", "domain": [1443.5, 2914], "nice": false}}
      }
    },
    {
      "data": {"name": "one"},
      "mark": {"type": "rect", "color": "#0000ff"},
      "encoding": {
        "x": {"datum": {"year":2020,"month":8,"date":8,"hours":18}, "type": "temporal", "axis": null, "scale": {"type": "time", "nice": false, "domain": {"expr": "[datetime(2020,1,13,13,40),datetime(2020,2,1),datetime(2020,3,1),datetime(2020,4,1),datetime(2020,5,1),datetime(2020,6,1),datetime(2020,6,27,9,36),datetime(2020,7,1),datetime(2020,7,8,10)]"}, "range": [0,153.5,446,740,1024,1328,1583,1654,1768]}},
        "x2": {"datum": {"year":2020,"month":8,"date":12,"hours":9}},
        "y": {"datum": 2237.3, "type": "quantitative", "axis": null, "scale": {"type": "log", "domain": [1443.5, 2914], "nice": false}},
        "y2": {"datum": 2264.6}
      }
    },
    {
      "data": {"name": "one"},
      "mark": {"type": "text", "text": "2.253,08", "font": "Liberation Sans", "fontSize": 13, "fontWeight": "bold", "color": "#ffffff", "align": "left", "baseline": "middle"},
      "encoding": {
        "x": {"datum": {"year":2020,"month":8,"date":8,"hours":21}, "type": "temporal", "axis": null, "scale": {"type": "time", "nice": false, "domain": {"expr": "[datetime(2020,1,13,13,40),datetime(2020,2,1),datetime(2020,3,1),datetime(2020,4,1),datetime(2020,5,1),datetime(2020,6,1),datetime(2020,6,27,9,36),datetime(2020,7,1),datetime(2020,7,8,10)]"}, "range": [0,153.5,446,740,1024,1328,1583,1654,1768]}},
        "y": {"datum": 2251, "type": "quantitative", "axis": null, "scale": {"type": "log", "domain": [1443.5, 2914], "nice": false}}
      }
    },
    {
      "data": {"name": "one"},
      "mark": {"type": "rule", "color": "#000000", "strokeWidth": 1},
      "encoding": {
        "x": {"datum": {"year":2020,"month":2,"date":5}, "type": "temporal", "axis": null, "scale": {"type": "time", "nice": false, "domain": {"expr": "[datetime(2020,1,13,13,40),datetime(2020,2,1),datetime(2020,3,1),datetime(2020,4,1),datetime(2020,5,1),datetime(2020,6,1),datetime(2020,6,27,9,36),datetime(2020,7,1),datetime(2020,7,8,10)]"}, "range": [0,153.5,446,740,1024,1328,1583,1654,1768]}},
        "x2": {"datum": {"year":2020,"month":8,"date":15}},
        "y": {"datum": 1443.5, "type": "quantitative", "axis": null, "scale": {"type": "log", "domain": [1443.5, 2914], "nice": false}}
      }
    }
  ]
}
